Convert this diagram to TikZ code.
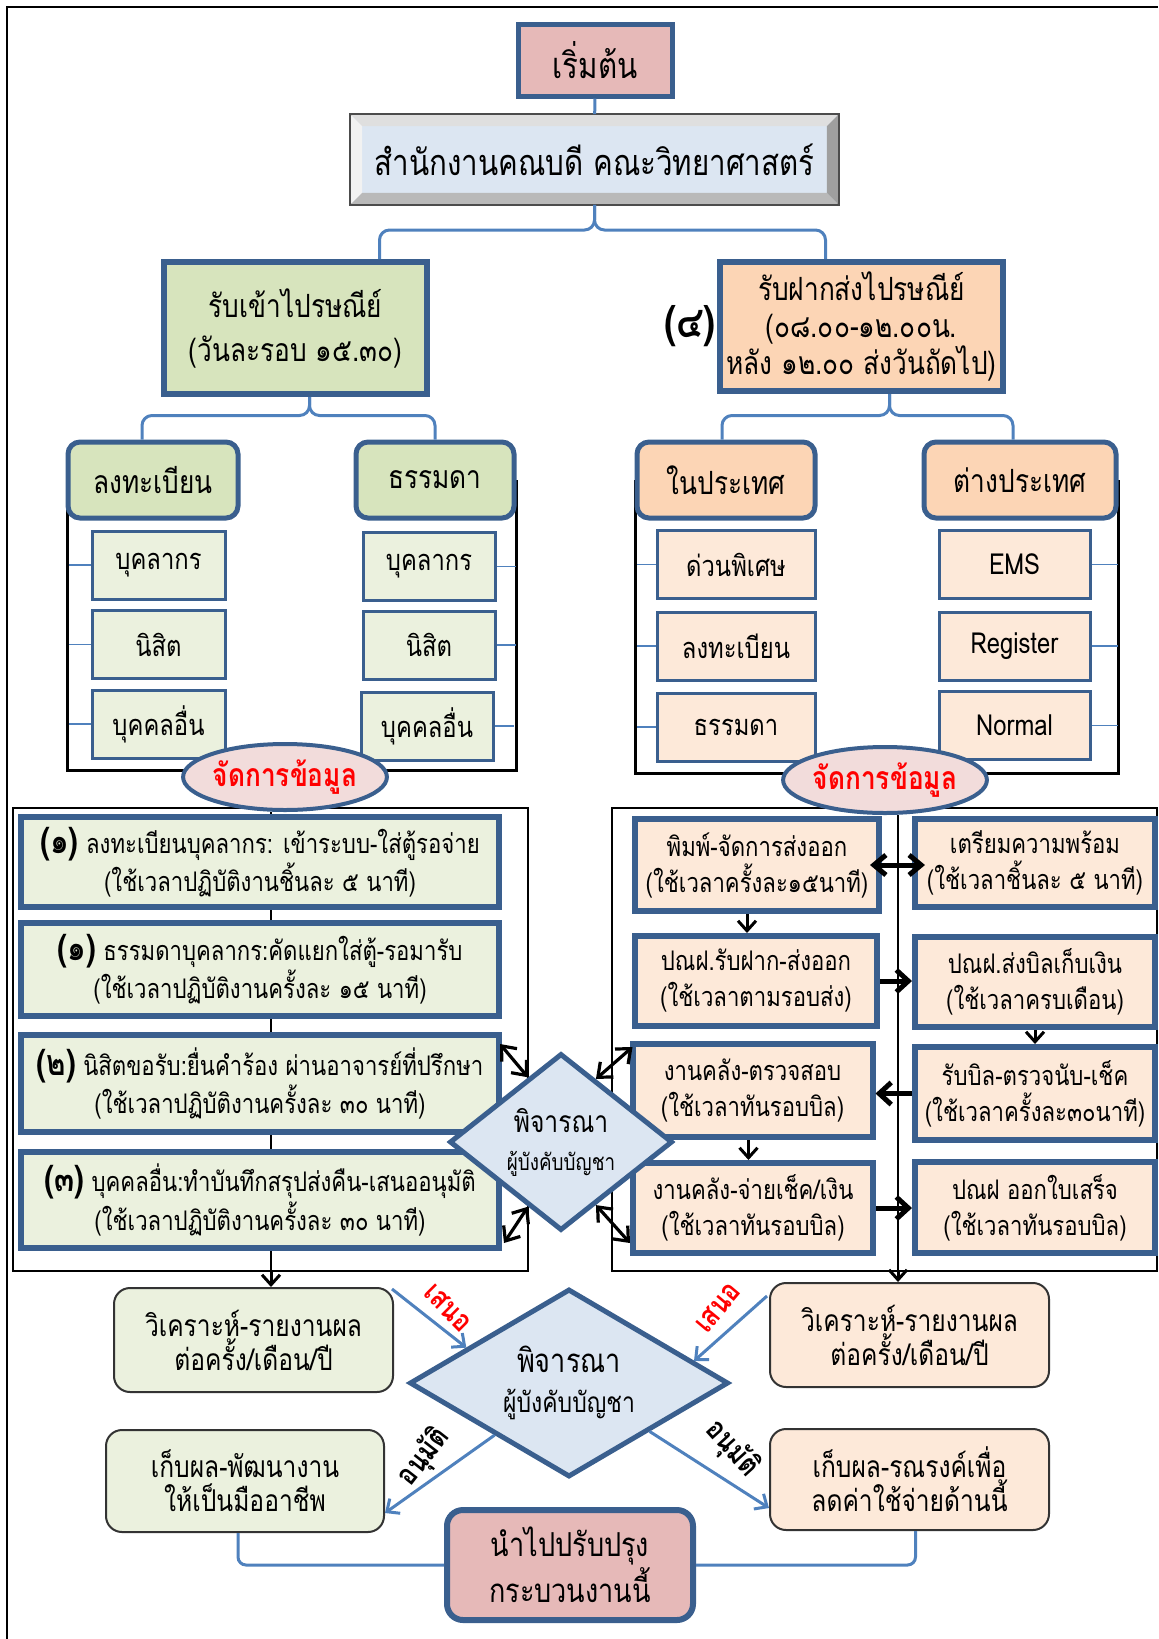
\documentclass[tikz,border=0pt]{standalone}
\usepackage{fontspec}
\newfontfamily\thaifont[Script=Thai,FakeStretch=0.82]{Loma}
\usetikzlibrary{arrows.meta,calc,positioning,shapes.geometric,backgrounds}

\definecolor{edgeblue}{HTML}{3A5F8E}
\definecolor{linkblue}{HTML}{4F81BD}
\definecolor{rosefill}{HTML}{E6B9B8}
\definecolor{skyfill}{HTML}{DCE6F2}
\definecolor{leaffill}{HTML}{D7E4BD}
\definecolor{paleleaf}{HTML}{EBF1DE}
\definecolor{peachfill}{HTML}{FCD5B5}
\definecolor{palepeach}{HTML}{FDE9D9}
\definecolor{blushfill}{HTML}{F2DCDB}

\newcommand{\fsz}[2]{\thaifont\fontsize{#1}{#2}\selectfont}

\begin{document}
\begin{tikzpicture}[x=0.5pt,y=-0.5pt,font=\thaifont,
  box/.style={draw=edgeblue,line width=2.5pt,align=center,inner sep=0pt},
  hdr/.style={box,rounded corners=6pt,minimum height=38pt,font=\fsz{16}{18}},
  item/.style={box,line width=1.5pt,minimum height=34pt,font=\fsz{14.5}{17}},
  task/.style={box,line width=3pt,fill=paleleaf,minimum width=239pt,font=\fsz{13.5}{16}},
  rtask/.style={box,line width=3pt,fill=palepeach,minimum width=120pt,font=\fsz{13.5}{18}},
  oval/.style={ellipse,draw=edgeblue,line width=2pt,fill=blushfill,inner sep=0pt,
    minimum width=91pt,minimum height=33pt,text=red,font=\fsz{16}{18}\bfseries},
  judge/.style={diamond,draw=edgeblue,line width=2.5pt,fill=skyfill,inner sep=0pt,align=center,aspect=1.3},
  rbox/.style={draw=black!80,line width=1pt,rounded corners=8pt,align=center,inner sep=0pt,
    minimum width=139.5pt,minimum height=52pt,font=\fsz{15}{17}},
  tag/.style={inner sep=0pt,font=\fsz{15}{17}\bfseries},
  link/.style={draw=linkblue,line width=1.5pt},
  sublink/.style={draw=linkblue,line width=0.8pt},
  linkarrow/.style={link,-{Straight Barb[length=5pt,width=9pt]}},
  flow/.style={draw=black,line width=1.5pt,-{Straight Barb[length=5pt,width=9pt]}},
  bigflow/.style={draw=black,line width=2.5pt,-{Straight Barb[length=6pt,width=11pt]}},
  both/.style={draw=black,line width=1.6pt,{Straight Barb[length=6pt,width=10pt]}-{Straight Barb[length=6pt,width=10pt]}},
  bracket/.style={draw=black,line width=1.5pt},
  frame/.style={draw=black,line width=0.7pt}]
  \useasboundingbox (0,0) rectangle (1158,1639);

  % top
  \node[box,fill=rosefill,minimum width=77pt,minimum height=36pt,font=\fsz{18}{20}] (start) at (595,60) {เริ่มต้น};
  \node[draw=gray!60!black,line width=0.8pt,fill=skyfill,inner sep=0pt,minimum width=243.5pt,minimum height=44.5pt] (office) at (594.5,159.5) {};
  \fill[gray!25] (office.north west) -- (office.north east) -- ++(-12,12) -- ($(office.north west)+(12,12)$) -- cycle;
  \fill[gray!10] (office.north west) -- (office.south west) -- ++(12,-12) -- ($(office.north west)+(12,12)$) -- cycle;
  \fill[gray!55] (office.south west) -- (office.south east) -- ++(-12,-12) -- ($(office.south west)+(12,-12)$) -- cycle;
  \fill[gray!75] (office.north east) -- (office.south east) -- ++(-12,-12) -- ($(office.north east)+(-12,12)$) -- cycle;
  \draw[gray!60!black,line width=0.8pt] (office.north west) rectangle (office.south east);
  \node[font=\fsz{18}{20}] (officetxt) at (office) {สำนักงานคณบดี คณะวิทยาศาสตร์};

  \node[box,line width=3pt,fill=leaffill,minimum width=131.5pt,minimum height=66pt,font=\fsz{16}{22}] (recv) at (295.5,328) {รับเข้าไปรษณีย์\\(วันละรอบ ๑๕.๓๐)};
  \node[box,line width=3pt,fill=peachfill,minimum width=141.5pt,minimum height=64.5pt,font=\fsz{16}{18.5}] (send) at (861.5,326.5) {รับฝากส่งไปรษณีย์\\(๐๘.๐๐-๑๒.๐๐น.\\หลัง ๑๒.๐๐ ส่งวันถัดไป)};
  \node[font=\fsz{22}{24}\bfseries] (four) at (690,326) {(๔)};

  \draw[link] (start) -- (office);
  \draw[link,rounded corners=5pt] ([xshift=42pt]recv.north) -- ++(0,-29) -| (office.south);
  \draw[link,rounded corners=5pt] ([xshift=-18pt]send.north) -- ++(0,-29) -| (office.south);

  % second level
  \node[hdr,fill=leaffill,minimum width=85pt] (hReg) at (153,480) {ลงทะเบียน};
  \node[hdr,fill=leaffill,minimum width=79pt] (hOrd) at (435,480) {ธรรมดา};
  \node[hdr,fill=peachfill,minimum width=89pt] (hDom) at (726,480) {ในประเทศ};
  \node[hdr,fill=peachfill,minimum width=96pt] (hFor) at (1020,480) {ต่างประเทศ};
  \draw[link,rounded corners=5pt] ([xshift=-5.5pt]hReg.north) -- ++(0,-24) -| ([xshift=7pt]recv.south);
  \draw[link,rounded corners=5pt] (hOrd.north) -- ++(0,-24) -| ([xshift=7pt]recv.south);
  \draw[link,rounded corners=5pt] ([xshift=-2pt]hDom.north) -- ++(0,-24) -| ([xshift=14pt]send.south);
  \draw[link,rounded corners=5pt] ([xshift=-3.5pt]hFor.north) -- ++(0,-24) -| ([xshift=14pt]send.south);

  \node[item,fill=paleleaf,minimum width=66.5pt] (rPer) at (158.5,565) {บุคลากร};
  \node[item,fill=paleleaf,minimum width=66.5pt] (rStu) at (158.5,644.5) {นิสิต};
  \node[item,fill=paleleaf,minimum width=66.5pt] (rOth) at (158.5,724) {บุคคลอื่น};
  \node[item,fill=paleleaf,minimum width=66pt] (oPer) at (429,566.5) {บุคลากร};
  \node[item,fill=paleleaf,minimum width=66pt] (oStu) at (429,645) {นิสิต};
  \node[item,fill=paleleaf,minimum width=66pt] (oOth) at (427,726) {บุคคลอื่น};
  \node[item,fill=palepeach,minimum width=79pt] (dExp) at (736,564.5) {ด่วนพิเศษ};
  \node[item,fill=palepeach,minimum width=79pt] (dReg) at (736,646) {ลงทะเบียน};
  \node[item,fill=palepeach,minimum width=79pt] (dOrd) at (736,727) {ธรรมดา};
  \node[item,fill=palepeach,minimum width=75.5pt] (fEms) at (1014.5,564.5) {EMS};
  \node[item,fill=palepeach,minimum width=75.5pt] (fReg) at (1014.5,646) {Register};
  \node[item,fill=palepeach,minimum width=75.5pt] (fNor) at (1014.5,725.5) {Normal};
  \foreach \n in {rPer,rStu,rOth}{\draw[sublink] (\n.west) -- ++(-22,0);}
  \foreach \n in {oPer,oStu,oOth}{\draw[sublink] (\n.east) -- ++(19,0);}
  \foreach \n in {dExp,dReg,dOrd}{\draw[sublink] (\n.west) -- ++(-19,0);}
  \foreach \n in {fEms,fReg,fNor}{\draw[sublink] (\n.east) -- ++(26,0);}

  \node[oval] (mgL) at (285,777) {จัดการข้อมูล};
  \node[oval] (mgR) at (885,780) {จัดการข้อมูล};

  % middle, left
  \node[task,minimum height=45pt] (t1) at (260,862) {{\fsz{18}{16}\bfseries(๑)} ลงทะเบียนบุคลากร: เข้าระบบ-ใส่ตู้รอจ่าย\\(ใช้เวลาปฏิบัติงานชิ้นละ ๕ นาที)};
  \node[task,minimum height=46.5pt] (t2) at (260,969.5) {{\fsz{18}{16}\bfseries(๑)} ธรรมดาบุคลากร:คัดแยกใส่ตู้-รอมารับ\\(ใช้เวลาปฏิบัติงานครั้งละ ๑๕ นาที)};
  \node[task,minimum height=48.5pt] (t3) at (260,1083.5) {{\fsz{18}{16}\bfseries(๒)} นิสิตขอรับ:ยื่นคำร้อง ผ่านอาจารย์ที่ปรึกษา\\(ใช้เวลาปฏิบัติงานครั้งละ ๓๐ นาที)};
  \node[task,minimum height=48pt] (t4) at (260,1200) {{\fsz{18}{16}\bfseries(๓)} บุคคลอื่น:ทำบันทึกสรุปส่งคืน-เสนออนุมัติ\\(ใช้เวลาปฏิบัติงานครั้งละ ๓๐ นาที)};

  % middle, right
  \node[rtask,minimum width=122pt,minimum height=46pt] (r1) at (757,865) {พิมพ์-จัดการส่งออก\\(ใช้เวลาครั้งละ๑๕นาที)};
  \node[rtask,minimum height=44pt] (r2) at (1035,863) {เตรียมความพร้อม\\(ใช้เวลาชิ้นละ ๕ นาที)};
  \node[rtask,minimum width=121pt,minimum height=45pt] (r3) at (756,981) {ปณฝ.รับฝาก-ส่งออก\\(ใช้เวลาตามรอบส่ง)};
  \node[rtask,minimum height=45pt] (r4) at (1035,982) {ปณฝ.ส่งบิลเก็บเงิน\\(ใช้เวลาครบเดือน)};
  \node[rtask,minimum height=46.5pt] (r5) at (752.5,1090.5) {งานคลัง-ตรวจสอบ\\(ใช้เวลาทันรอบบิล)};
  \node[rtask,minimum height=46.5pt] (r6) at (1035,1093.5) {รับบิล-ตรวจนับ-เช็ค\\(ใช้เวลาครั้งละ๓๐นาที)};
  \node[rtask,minimum height=45pt] (r7) at (753,1208) {งานคลัง-จ่ายเช็ค/เงิน\\(ใช้เวลาทันรอบบิล)};
  \node[rtask,minimum height=45.5pt] (r8) at (1035,1207.5) {ปณฝ ออกใบเสร็จ\\(ใช้เวลาทันรอบบิล)};

  \node[judge,minimum width=111.5pt,minimum height=88.5pt,font=\fsz{15}{19}] (jMid) at (561,1142) {พิจารณา\\{\fsz{11.5}{13}ผู้บังคับบัญชา}};

  \draw[both,line width=2.5pt] ([xshift=-6pt]r1.east) -- ([xshift=6.5pt]r2.west |- r1.east);
  \draw[flow] ([xshift=-5pt]r1.south) -- ([xshift=-5pt]r1.south |- r3.north);
  \draw[bigflow] (r3.east) -- (r3.east -| r4.west);
  \draw[flow] (r4.south) -- (r4.south |- r6.north);
  \draw[bigflow] (r6.west) -- (r6.west -| r5.east);
  \draw[flow] ([xshift=-2pt]r5.south) -- ([xshift=-2pt]r5.south |- r7.north);
  \draw[bigflow] (r7.east) -- (r7.east -| r8.west);

  \draw[both] ([shift={(-2,12)}]t3.north east) -- (jMid.117);
  \draw[both] ([shift={(2,-8)}]t4.south east) -- (jMid.243);
  \draw[both] ([shift={(3,6)}]r5.north west) -- (jMid.61);
  \draw[both] ([shift={(0,-13)}]r7.south west) -- (jMid.299);

  % bottom
  \node[rbox,fill=paleleaf] (anaL) at (253.5,1340) {วิเคราะห์-รายงานผล\\ต่อครั้ง/เดือน/ปี};
  \node[rbox,fill=palepeach] (anaR) at (909.5,1335) {วิเคราะห์-รายงานผล\\ต่อครั้ง/เดือน/ปี};
  \node[judge,minimum width=159.5pt,minimum height=94pt,font=\fsz{16.5}{20}] (jBot) at (569,1383) {พิจารณา\\{\fsz{14}{15}ผู้บังคับบัญชา}};
  \node[rbox,fill=paleleaf,minimum width=139pt,minimum height=51pt] (keepL) at (245,1481) {เก็บผล-พัฒนางาน\\ให้เป็นมืออาชีพ};
  \node[rbox,fill=palepeach,minimum height=50.5pt] (keepR) at (909.5,1479.5) {เก็บผล-รณรงค์เพื่อ\\ลดค่าใช้จ่ายด้านนี้};
  \node[box,line width=3pt,rounded corners=8pt,fill=rosefill,minimum width=123pt,minimum height=55pt,font=\fsz{16.5}{19}] (final) at (570,1565) {นำไปปรับปรุง\\กระบวนงานนี้};

  \draw[linkarrow] ([shift={(-2,2)}]anaL.north east) -- (jBot.161);
  \draw[linkarrow] ([shift={(-2,14)}]anaR.north west) -- (jBot.10);
  \draw[linkarrow] (jBot.215) -- ([shift={(0,-20)}]keepL.south east);
  \draw[linkarrow] (jBot.329) -- ([shift={(0,-23)}]keepR.south west);
  \node[tag,text=red,rotate=-45] (offerL) at (448,1308) {เสนอ};
  \node[tag,text=red,rotate=50] (offerR) at (718,1308) {เสนอ};
  \node[tag,rotate=52] (okL) at (424,1457) {อนุมัติ};
  \node[tag,rotate=-48] (okR) at (732,1449) {อนุมัติ};

  \draw[link,rounded corners=4pt] ([xshift=-3.5pt]keepL.south) |- (final.west);
  \draw[link,rounded corners=4pt] ([xshift=3pt]keepR.south) |- (final.east);

  \begin{scope}[on background layer]
    \draw[frame] (7,1639) |- (1158,7);
    \draw[bracket] ([xshift=1pt]hReg.west) -- ++(0,290) -| (hOrd.east);
    \draw[bracket] ([xshift=0.5pt]hDom.west) -- ++(0,293) -| (hFor.east);
    \draw[frame] (13,808) rectangle (528,1271);
    \draw[frame] (612,808) rectangle (1157,1271);
    \coordinate (spineL) at (271,1271);
    \coordinate (spineR) at (898,1271);
    \draw[line width=1pt] (mgL.south -| spineL) -- (spineL);
    \draw[line width=1pt] (mgR.south -| spineR) -- (spineR);
  \end{scope}
  \draw[flow] (spineL) -- (spineL |- anaL.north);
  \draw[flow] (spineR) -- (spineR |- anaR.north);
\end{tikzpicture}
\end{document}
